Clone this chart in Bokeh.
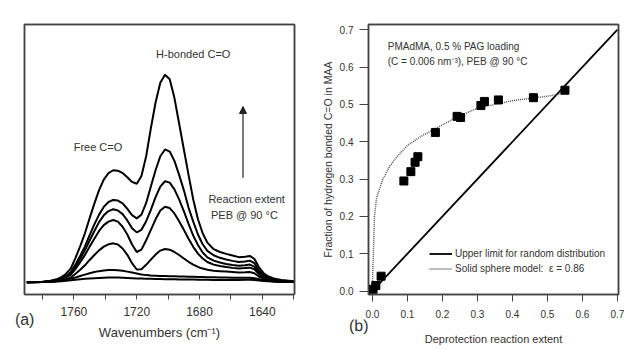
from bokeh.plotting import figure
from bokeh.models import (Range1d, FixedTicker, Label, Arrow, NormalHead, Legend, LegendItem,
                          LinearAxis)
from bokeh.layouts import row
from bokeh.embed import file_html
from bokeh.resources import INLINE

# ---------------- Panel (a): FTIR spectra ----------------
wavenumber = [1790, 1780, 1775, 1771, 1768, 1765, 1762, 1759, 1756, 1753, 1750, 1747, 1744, 1741,
              1738, 1735, 1732, 1729, 1726, 1723, 1720, 1717, 1714, 1711, 1708, 1705, 1702, 1699,
              1696, 1693, 1690, 1687, 1684, 1681, 1678, 1675, 1671, 1667, 1663, 1659, 1655, 1651,
              1648, 1645, 1642, 1639, 1636, 1632, 1628, 1620]
absorbance_1 = [0.0, 0.003, 0.007, 0.013, 0.022, 0.037, 0.06, 0.105, 0.155, 0.21, 0.275, 0.337, 0.395,
                0.44, 0.468, 0.48, 0.478, 0.468, 0.45, 0.43, 0.422, 0.455, 0.54, 0.66, 0.77, 0.855,
                0.889, 0.87, 0.79, 0.68, 0.57, 0.46, 0.355, 0.27, 0.21, 0.17, 0.142, 0.13, 0.122,
                0.115, 0.108, 0.11, 0.113, 0.1, 0.063, 0.038, 0.025, 0.015, 0.01, 0.005]
absorbance_2 = [0.0, 0.002, 0.005, 0.01, 0.016, 0.027, 0.044, 0.077, 0.114, 0.154, 0.202, 0.248, 0.29,
                0.323, 0.344, 0.353, 0.35, 0.338, 0.315, 0.288, 0.274, 0.29, 0.34, 0.41, 0.48, 0.54,
                0.569, 0.56, 0.52, 0.46, 0.395, 0.32, 0.26, 0.205, 0.163, 0.135, 0.116, 0.105, 0.098,
                0.092, 0.087, 0.089, 0.093, 0.082, 0.05, 0.031, 0.02, 0.012, 0.008, 0.004]
absorbance_3 = [0.0, 0.002, 0.005, 0.008, 0.014, 0.024, 0.039, 0.068, 0.101, 0.137, 0.179, 0.22, 0.258,
                0.287, 0.305, 0.313, 0.308, 0.292, 0.265, 0.232, 0.214, 0.225, 0.262, 0.31, 0.365, 0.41,
                0.433, 0.427, 0.398, 0.355, 0.305, 0.25, 0.2, 0.16, 0.128, 0.107, 0.093, 0.085, 0.079,
                0.074, 0.071, 0.073, 0.076, 0.067, 0.041, 0.026, 0.017, 0.01, 0.007, 0.003]
absorbance_4 = [0.0, 0.002, 0.004, 0.007, 0.012, 0.021, 0.033, 0.058, 0.086, 0.117, 0.153, 0.187, 0.22,
                0.245, 0.26, 0.267, 0.26, 0.238, 0.205, 0.162, 0.13, 0.14, 0.18, 0.225, 0.27, 0.308,
                0.324, 0.318, 0.295, 0.262, 0.225, 0.187, 0.152, 0.123, 0.102, 0.087, 0.076, 0.07, 0.066,
                0.062, 0.059, 0.061, 0.063, 0.056, 0.034, 0.021, 0.014, 0.008, 0.006, 0.003]
absorbance_5 = [0.0, 0.001, 0.002, 0.005, 0.008, 0.013, 0.021, 0.037, 0.054, 0.073, 0.096, 0.117, 0.137,
                0.153, 0.163, 0.167, 0.162, 0.145, 0.118, 0.082, 0.055, 0.056, 0.075, 0.097, 0.119, 0.136,
                0.143, 0.14, 0.13, 0.117, 0.102, 0.088, 0.076, 0.066, 0.059, 0.054, 0.05, 0.048, 0.046,
                0.044, 0.042, 0.043, 0.044, 0.039, 0.024, 0.015, 0.01, 0.006, 0.004, 0.002]
absorbance_6 = [0.0, 0.002, 0.004, 0.006, 0.009, 0.012, 0.016, 0.021, 0.027, 0.033, 0.039, 0.044, 0.048,
                0.051, 0.053, 0.053, 0.052, 0.05, 0.046, 0.042, 0.038, 0.034, 0.031, 0.029, 0.028, 0.027,
                0.027, 0.026, 0.026, 0.025, 0.025, 0.024, 0.024, 0.023, 0.023, 0.022, 0.022, 0.021, 0.021,
                0.02, 0.02, 0.02, 0.02, 0.018, 0.013, 0.009, 0.007, 0.004, 0.003, 0.002]
absorbance_7 = [0.0, 0.001, 0.002, 0.004, 0.005, 0.007, 0.009, 0.011, 0.013, 0.015, 0.017, 0.018, 0.019,
                0.02, 0.021, 0.021, 0.021, 0.02, 0.019, 0.018, 0.017, 0.016, 0.015, 0.015, 0.014, 0.014,
                0.013, 0.013, 0.013, 0.012, 0.012, 0.012, 0.012, 0.011, 0.011, 0.011, 0.01, 0.01, 0.01,
                0.01, 0.01, 0.011, 0.011, 0.01, 0.008, 0.006, 0.005, 0.003, 0.002, 0.001]
spectra = [absorbance_1, absorbance_2, absorbance_3, absorbance_4, absorbance_5, absorbance_6, absorbance_7]
wn_major_ticks = [1760, 1720, 1680, 1640]
wn_minor_ticks = [1780, 1740, 1700, 1660, 1620]

# ---------------- Panel (b): fraction of H-bonded C=O ----------------
extent_x = [0.002, 0.010, 0.025, 0.090, 0.110, 0.122, 0.130, 0.180, 0.242, 0.252, 0.310, 0.320,
            0.360, 0.460, 0.550]
fraction_y = [0.005, 0.015, 0.040, 0.295, 0.320, 0.345, 0.360, 0.425, 0.468, 0.465, 0.497, 0.508,
              0.512, 0.518, 0.538]
random_x = [0.0, 0.7]
random_y = [0.0, 0.7]
model_x = [0.0, 0.001, 0.003, 0.006, 0.012, 0.03, 0.05, 0.07, 0.10, 0.14, 0.18, 0.24, 0.30, 0.40,
           0.50, 0.56]
model_y = [0.0, 0.05, 0.10, 0.20, 0.25, 0.30, 0.335, 0.36, 0.39, 0.415, 0.435, 0.465, 0.49, 0.51,
           0.522, 0.532]
frac_ticks = [0.0, 0.1, 0.2, 0.3, 0.4, 0.5, 0.6, 0.7]

FONT = "Liberation Sans"
TXT = "#333333"
AX = "#444444"

WN_RANGE = (1791.5, 1619.5)
ABS_RANGE = (-0.052, 1.104)
EXT_RANGE = (-0.011, 0.703)
FRAC_RANGE = (-0.009, 0.714)


def border_axis(mid):
    """An axis with one hidden tick, used only to draw a frame edge."""
    return LinearAxis(ticker=FixedTicker(ticks=[mid], minor_ticks=[]),
                      major_label_overrides={mid: ""}, axis_line_color=AX,
                      axis_line_width=1.5, major_tick_line_color=None, minor_tick_line_color=None,
                      major_tick_out=0, major_tick_in=0, minor_tick_out=0, minor_tick_in=0,
                      major_label_standoff=0)


def panel_tag(pos, text, standoff, orientation):
    """A label-only axis carrying the panel tag such as '(a)'."""
    return LinearAxis(ticker=FixedTicker(ticks=[pos], minor_ticks=[]),
                      major_label_overrides={pos: text}, axis_line_color=None,
                      major_tick_line_color=None, minor_tick_line_color=None,
                      major_tick_out=0, major_tick_in=0, minor_tick_out=0, minor_tick_in=0,
                      major_label_standoff=standoff, major_label_text_font=FONT,
                      major_label_text_font_size="16px", major_label_text_color=TXT,
                      major_label_orientation=orientation)


# ---------- figure (a) ----------
p1 = figure(width=312, height=350, output_backend="svg", toolbar_location=None,
            x_range=Range1d(*WN_RANGE), y_range=Range1d(*ABS_RANGE),
            y_axis_location=None, min_border_left=24, min_border_right=18,
            min_border_top=14, min_border_bottom=47)
p1.grid.visible = False
p1.outline_line_color = AX
p1.outline_line_width = 1.5
p1.background_fill_color = "white"
p1.border_fill_color = "white"
for spec in spectra:
    p1.line(wavenumber, spec, line_color="black", line_width=2)

xa = p1.xaxis[0]
xa.ticker = FixedTicker(ticks=wn_major_ticks, minor_ticks=wn_minor_ticks)
xa.axis_line_color = AX
xa.axis_line_width = 1.5
xa.major_tick_line_color = AX
xa.minor_tick_line_color = AX
xa.major_tick_in = 0
xa.major_tick_out = 5
xa.minor_tick_in = 0
xa.minor_tick_out = 5
xa.major_label_text_font = FONT
xa.major_label_text_font_size = "12px"
xa.major_label_text_color = TXT
xa.major_label_standoff = 7
xa.axis_label = "Wavenumbers (cm⁻¹)"
xa.axis_label_text_font = FONT
xa.axis_label_text_font_size = "13px"
xa.axis_label_text_font_style = "normal"
xa.axis_label_text_color = TXT
xa.axis_label_standoff = 6

p1.add_layout(border_axis(0.5), "left")
p1.add_layout(border_axis(1700), "above")
p1.add_layout(border_axis(0.5), "right")
p1.add_layout(panel_tag(1791.4, "(a)", -32, "horizontal"), "below")

p1.add_layout(Label(x=1684, y=0.977, text="H-bonded C=O", text_align="center", text_baseline="middle",
                    text_font=FONT, text_font_size="11px", text_color=TXT))
p1.add_layout(Label(x=1744.7, y=0.58, text="Free C=O", text_align="center", text_baseline="middle",
                    text_font=FONT, text_font_size="11px", text_color=TXT))
p1.add_layout(Label(x=1650, y=0.357, text="Reaction extent", text_align="center", text_baseline="middle",
                    text_font=FONT, text_font_size="11px", text_color=TXT))
p1.add_layout(Label(x=1651.4, y=0.287, text="PEB @ 90 °C", text_align="center", text_baseline="middle",
                    text_font=FONT, text_font_size="11px", text_color=TXT))
p1.add_layout(Arrow(x_start=1652.3, y_start=0.448, x_end=1652.3, y_end=0.753, line_width=1.2,
                    line_color="#222222",
                    end=NormalHead(size=7, fill_color="#222222", line_color="#222222")))

# ---------- figure (b) ----------
p2 = figure(width=312, height=350, output_backend="svg", toolbar_location=None,
            x_range=Range1d(*EXT_RANGE), y_range=Range1d(*FRAC_RANGE),
            min_border_left=56, min_border_right=6, min_border_top=24, min_border_bottom=56)
p2.grid.visible = False
p2.outline_line_color = AX
p2.outline_line_width = 1.5
p2.background_fill_color = "white"
p2.border_fill_color = "white"

r_rand = p2.line(random_x, random_y, line_color="black", line_width=1.8)
r_model = p2.line(model_x, model_y, line_color="#555555", line_width=1.5, line_dash="1 1")
p2.scatter(extent_x, fraction_y, marker="square", size=8, color="black")

for ax, out in ((p2.xaxis[0], 7), (p2.yaxis[0], 9)):
    ax.ticker = FixedTicker(ticks=frac_ticks, minor_ticks=[])
    ax.axis_line_color = AX
    ax.axis_line_width = 1.5
    ax.major_tick_line_color = AX
    ax.major_tick_in = 0
    ax.major_tick_out = out
    ax.minor_tick_in = 0
    ax.minor_tick_out = 0
    ax.major_label_text_font = FONT
    ax.major_label_text_font_size = "10px"
    ax.major_label_text_color = TXT
    ax.axis_label_text_font = FONT
    ax.axis_label_text_font_style = "normal"
    ax.axis_label_text_color = TXT

p2.xaxis[0].major_label_overrides = {t: f"{t:.1f}" for t in frac_ticks}
p2.yaxis[0].major_label_overrides = {t: f"{t:.1f}" for t in frac_ticks}
p2.xaxis[0].major_label_standoff = 8
p2.xaxis[0].axis_label = "Deprotection reaction extent"
p2.xaxis[0].axis_label_text_font_size = "11px"
p2.xaxis[0].axis_label_standoff = 12
p2.yaxis[0].major_label_standoff = 6
p2.yaxis[0].axis_label = "Fraction of hydrogen bonded C=O in MAA"
p2.yaxis[0].axis_label_text_font_size = "10.5px"
p2.yaxis[0].axis_label_standoff = 3

p2.add_layout(border_axis(0.35), "above")
p2.add_layout(border_axis(0.35), "right")
p2.add_layout(panel_tag(-0.0108, "(b)", -22, 0.001), "below")

p2.add_layout(Label(x=0.044, y=0.656, text="PMAdMA, 0.5 % PAG loading", text_align="left",
                    text_baseline="middle", text_font=FONT, text_font_size="10px", text_color=TXT))
p2.add_layout(Label(x=0.044, y=0.616, text="(C = 0.006 nm⁻³), PEB @ 90 °C", text_align="left",
                    text_baseline="middle", text_font=FONT, text_font_size="10px", text_color=TXT))

legend = Legend(items=[LegendItem(label="Upper limit for random distribution", renderers=[r_rand]),
                       LegendItem(label="Solid sphere model:  ε = 0.86", renderers=[r_model])],
                location=(61, 18))
legend.background_fill_alpha = 0
legend.border_line_alpha = 0
legend.padding = 0
legend.margin = 0
legend.spacing = 0
legend.glyph_width = 23
legend.glyph_height = 15
legend.label_height = 15
legend.label_standoff = 3
legend.label_text_font = FONT
legend.label_text_font_size = "10px"
legend.label_text_color = TXT
p2.add_layout(legend)

layout = row(p1, p2)
open("out.html", "w").write(file_html(layout, INLINE))
